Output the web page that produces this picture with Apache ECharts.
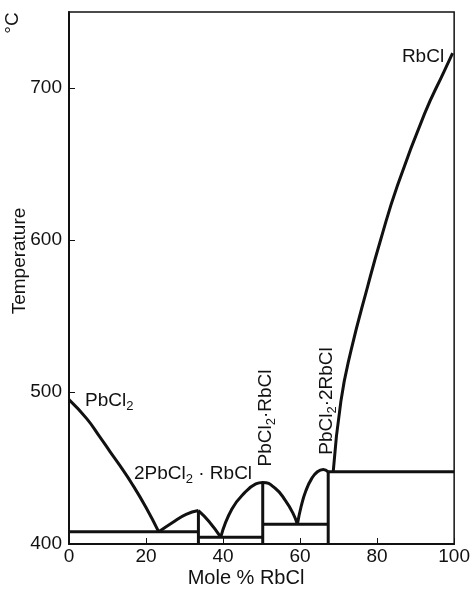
<!DOCTYPE html>
<html>
<head>
<meta charset="utf-8">
<title>PbCl2–RbCl phase diagram</title>
<script src="https://cdn.jsdelivr.net/npm/echarts@6/dist/echarts.min.js"></script>
<style>
  html, body { margin: 0; padding: 0; background: #fff; }
  #chart { width: 473px; height: 591px; }
</style>
</head>
<body>
<div id="chart"></div>
<script>
// Axis ticks
const xTicks = [0, 20, 40, 60, 80, 100];
const yTicks = [400, 500, 600, 700];

// Liquidus branches: [mole % RbCl, temperature °C]
const pbcl2Liquidus = [[0, 495], [4.6, 482.5], [8, 470.5], [10.6, 461], [13.1, 452], [16.5, 439], [20, 424], [23.3, 408]];
const compound21Rise = [[23.3, 408], [26.8, 414], [30.4, 419.5], [33.6, 422]];
const compound21Fall = [[33.6, 422], [36.3, 415], [39.4, 404.5]];
const compound11Dome = [[39.4, 404.5], [42.3, 423], [45.9, 434.5], [48.5, 439.5], [50.3, 440.5], [53.6, 436.5], [56.2, 428.5], [58.2, 420], [59.3, 413]];
const compound12Rise = [[59.3, 413], [60.3, 425], [61.5, 435], [63, 443], [64.5, 447.5], [66, 449], [67.3, 447.5]];
const rbclLiquidus = [[68.6, 447.5], [70.6, 494], [73.2, 527], [77.6, 570], [80.9, 600], [85.3, 636], [92.3, 683], [97.4, 711], [99.6, 723]];

// Eutectic / peritectic horizontals
const isotherms = [
  [[0, 408], [33.6, 408]],
  [[33.6, 404.5], [50.3, 404.5]],
  [[50.3, 413], [67.3, 413]],
  [[67.3, 447.5], [100, 447.5]]
];
// Compound composition lines
const compoundLines = [
  [[33.6, 422], [33.6, 400]],
  [[50.3, 440.5], [50.3, 400]],
  [[67.3, 447.5], [67.3, 400]]
];

const INK = '#111';
const FONT = 'Liberation Sans, Arial, sans-serif';

const curves = [pbcl2Liquidus, compound21Rise, compound21Fall, compound11Dome, compound12Rise, rbclLiquidus];

function lineSeries(data, smooth) {
  return {
    type: 'line',
    data: data,
    smooth: smooth,
    symbol: 'none',
    silent: true,
    lineStyle: { color: INK, width: 3 },
    z: 3
  };
}

const series = []
  .concat(curves.map(c => lineSeries(c, 0.5)))
  .concat(isotherms.map(c => lineSeries(c, false)))
  .concat(compoundLines.map(c => lineSeries(c, false)));

const chart = echarts.init(document.getElementById('chart'), null, { renderer: 'canvas' });

const subStyle = { fontSize: 13, fontFamily: FONT, color: INK, padding: [10, 0, 0, 0] };
const mainStyle = { fontSize: 19, fontFamily: FONT, color: INK };

chart.setOption({
  animation: false,
  backgroundColor: '#fff',
  grid: { left: 69, right: 16, top: 12, bottom: 47, show: true, borderColor: INK, borderWidth: 1.5, backgroundColor: 'transparent' },
  xAxis: {
    type: 'value',
    min: xTicks[0],
    max: xTicks[xTicks.length - 1],
    interval: xTicks[1] - xTicks[0],
    splitLine: { show: false },
    axisLine: { show: true, onZero: false, lineStyle: { color: INK, width: 2 } },
    axisTick: { show: true, inside: true, length: 6, lineStyle: { color: INK, width: 1 } },
    axisLabel: { color: INK, fontSize: 19, fontFamily: FONT, margin: 3 }
  },
  yAxis: {
    type: 'value',
    min: yTicks[0],
    max: 750,
    interval: yTicks[1] - yTicks[0],
    splitLine: { show: false },
    axisLine: { show: true, onZero: false, lineStyle: { color: INK, width: 2 } },
    axisTick: { show: true, inside: true, length: 6, lineStyle: { color: INK, width: 1 } },
    axisLabel: { color: INK, fontSize: 19, fontFamily: FONT, margin: 7, showMaxLabel: false }
  },
  series: series,
  graphic: [
    { type: 'text', x: 13, y: 23, rotation: Math.PI / 2,
      style: { text: '°C', fontSize: 19, fontFamily: FONT, fill: INK, align: 'center', verticalAlign: 'middle' } },
    { type: 'text', x: 20, y: 261, rotation: Math.PI / 2,
      style: { text: 'Temperature', fontSize: 19, fontFamily: FONT, fill: INK, align: 'center', verticalAlign: 'middle' } },
    { type: 'text', x: 246, y: 578,
      style: { text: 'Mole % RbCl', fontSize: 20, fontFamily: FONT, fill: INK, align: 'center', verticalAlign: 'middle' } },
    { type: 'text', x: 423, y: 57,
      style: { text: 'RbCl', fontSize: 19, fontFamily: FONT, fill: INK, align: 'center', verticalAlign: 'middle' } },
    { type: 'text', x: 85, y: 401,
      style: { text: '{a|PbCl}{s|2}', rich: { a: mainStyle, s: subStyle }, fill: INK, align: 'left', verticalAlign: 'middle' } },
    { type: 'text', x: 134, y: 474,
      style: { text: '{a|2PbCl}{s|2}{a| · RbCl}', rich: { a: mainStyle, s: subStyle }, fill: INK, align: 'left', verticalAlign: 'middle' } },
    { type: 'text', x: 266, y: 418, rotation: Math.PI / 2,
      style: { text: '{a|PbCl}{s|2}{a|·RbCl}', rich: { a: mainStyle, s: subStyle }, fill: INK, align: 'center', verticalAlign: 'middle' } },
    { type: 'text', x: 327, y: 401, rotation: Math.PI / 2,
      style: { text: '{a|PbCl}{s|2}{a|·2RbCl}', rich: { a: mainStyle, s: subStyle }, fill: INK, align: 'center', verticalAlign: 'middle' } }
  ]
});
</script>
</body>
</html>
